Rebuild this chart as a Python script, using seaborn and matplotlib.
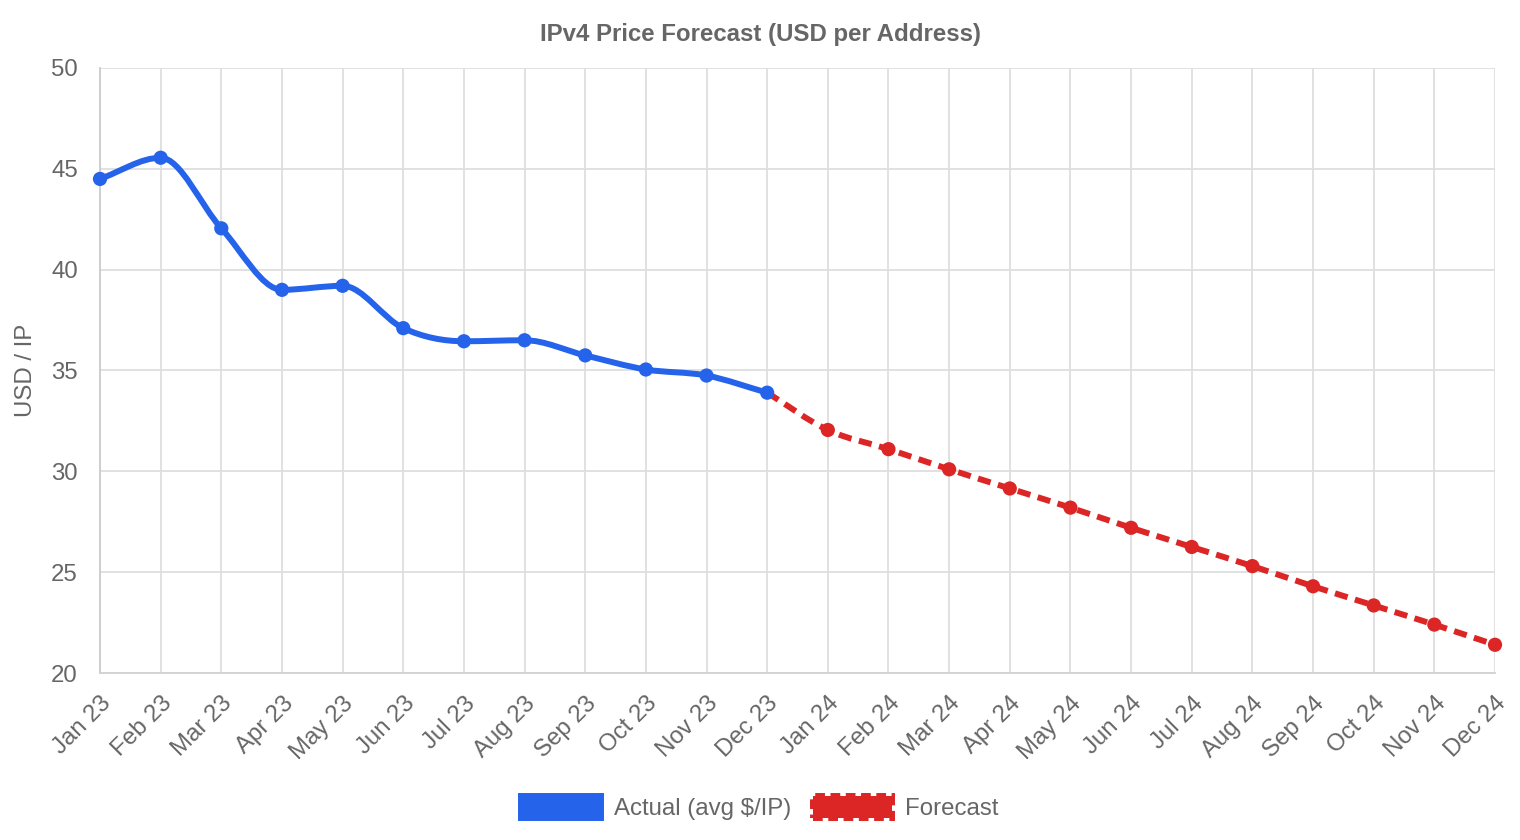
import numpy as np
import pandas as pd
import matplotlib
matplotlib.use('Agg')
import matplotlib.pyplot as plt
import matplotlib.transforms as mtransforms
from matplotlib.path import Path
from matplotlib.patches import PathPatch, Patch
import seaborn as sns

# data
months = ['Jan 23', 'Feb 23', 'Mar 23', 'Apr 23', 'May 23', 'Jun 23',
          'Jul 23', 'Aug 23', 'Sep 23', 'Oct 23', 'Nov 23', 'Dec 23',
          'Jan 24', 'Feb 24', 'Mar 24', 'Apr 24', 'May 24', 'Jun 24',
          'Jul 24', 'Aug 24', 'Sep 24', 'Oct 24', 'Nov 24', 'Dec 24']
actual = [44.5, 45.55, 42.05, 39.0, 39.2, 37.1, 36.45, 36.5, 35.75, 35.05, 34.75, 33.9]
forecast = [32.05, 31.1, 30.1, 29.15, 28.2, 27.2, 26.25, 25.3, 24.3, 23.35, 22.4, 21.4]
yticks = [20, 25, 30, 35, 40, 45, 50]

BLUE = '#2563eb'
RED = '#dc2626'
TXT = '#666666'
GRID = '#dedede'
FS = 17.3

sns.set_theme(style='white')
plt.rcParams['font.family'] = ['Liberation Sans', 'DejaVu Sans']
plt.rcParams['lines.scale_dashes'] = False


def smooth_path(xs, ys):
    # monotone cubic curve (same idea as chart.js "monotone"), drawn as bezier segments
    xs = np.asarray(xs, float)
    ys = np.asarray(ys, float)
    n = len(xs)
    dk = np.diff(ys) / np.diff(xs)
    m = np.zeros(n)
    m[0], m[-1] = dk[0], dk[-1]
    for i in range(1, n - 1):
        m[i] = 0 if np.sign(dk[i - 1]) != np.sign(dk[i]) else (dk[i - 1] + dk[i]) / 2
    for i in range(n - 1):
        if dk[i] == 0:
            m[i] = m[i + 1] = 0
            continue
        a, b = m[i] / dk[i], m[i + 1] / dk[i]
        sq = a * a + b * b
        if sq > 9:
            t = 3 / np.sqrt(sq)
            m[i], m[i + 1] = a * t * dk[i], b * t * dk[i]
    verts = [(xs[0], ys[0])]
    codes = [Path.MOVETO]
    for i in range(n - 1):
        d = (xs[i + 1] - xs[i]) / 3
        verts += [(xs[i] + d, ys[i] + m[i] * d),
                  (xs[i + 1] - d, ys[i + 1] - m[i + 1] * d),
                  (xs[i + 1], ys[i + 1])]
        codes += [Path.CURVE4] * 3
    return Path(verts, codes)


fig = plt.figure(figsize=(15.2, 8.4), dpi=100)
ax = fig.add_axes([100 / 1520, 1 - 673 / 840, 1395 / 1520, 605 / 840])

x_act = np.arange(len(actual))
x_fc = np.arange(len(actual), len(months))

# forecast line starts at the last actual point
fc_line_x = np.concatenate([[x_act[-1]], x_fc])
fc_line_y = [actual[-1]] + forecast

ax.add_patch(PathPatch(smooth_path(fc_line_x, fc_line_y), fill=False, edgecolor=RED,
                       lw=4.3, linestyle=(0, (9.5, 5.5)), capstyle='butt',
                       zorder=3, clip_on=False))
ax.add_patch(PathPatch(smooth_path(x_act, actual), fill=False, edgecolor=BLUE,
                       lw=4.3, capstyle='round', joinstyle='round', zorder=4))

df = pd.DataFrame({
    'x': np.concatenate([x_fc, x_act]),
    'y': forecast + actual,
    'series': ['Forecast'] * len(forecast) + ['Actual'] * len(actual),
})
sns.scatterplot(data=df, x='x', y='y', hue='series',
                palette={'Actual': BLUE, 'Forecast': RED},
                s=105, linewidth=0, legend=False, zorder=5, clip_on=False, ax=ax)

ax.set_xlim(0, len(months) - 1)
ax.set_ylim(20, 50)
ax.set_yticks(yticks)
ax.set_xticks(np.arange(len(months)))
ax.set_xticklabels(months, rotation=45, ha='right', va='top', rotation_mode='anchor')
offset = mtransforms.ScaledTranslation(12 / 100, -2 / 100, fig.dpi_scale_trans)
for lbl in ax.get_xticklabels():
    lbl.set_transform(lbl.get_transform() + offset)

ax.grid(True, color=GRID, lw=1.3)
ax.set_axisbelow(True)
for side in ['top', 'right']:
    ax.spines[side].set_visible(False)
ax.spines['left'].set_color('#cccccc')
ax.spines['left'].set_linewidth(1.3)
ax.spines['bottom'].set_color('#d2d2d2')
ax.spines['bottom'].set_linewidth(1.3)

ax.tick_params(axis='both', length=11, width=1.3, color=GRID, labelcolor=TXT,
               labelsize=FS, pad=5)
ax.tick_params(axis='x', pad=3)
ax.set_xlabel('')
ax.set_ylabel('USD / IP', fontsize=FS, color=TXT, labelpad=10)

fig.text(0.5, 1 - 35 / 840, 'IPv4 Price Forecast (USD per Address)', ha='center',
         va='center', fontsize=FS, fontweight='bold', color=TXT)

handles = [
    Patch(facecolor=BLUE, edgecolor=BLUE, lw=4.3, label='Actual (avg $/IP)'),
    Patch(facecolor=RED, edgecolor=RED, lw=4.3, linestyle=(0, (7, 4)), label='Forecast'),
]
leg = fig.legend(handles=handles, loc='center', bbox_to_anchor=(0.5, 1 - 808 / 840),
                 ncol=2, frameon=False, fontsize=FS, handlelength=3.3, handleheight=1.0,
                 handletextpad=0.55, columnspacing=0.9, labelcolor=TXT)

fig.savefig('out.png', dpi=100)
